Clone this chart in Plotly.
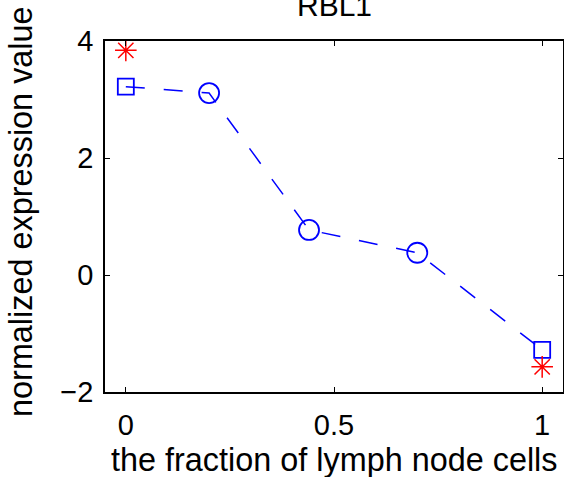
import plotly.graph_objects as go

# Data
line_x = [0.0, 0.2, 0.44, 0.70, 1.0]
line_y = [3.22, 3.11, 0.77, 0.38, -1.28]
mix_x = [0.2, 0.44, 0.70]
mix_y = [3.11, 0.77, 0.38]
pure_x = [0.0, 1.0]
pure_y = [3.22, -1.28]
star_x = [0.0, 1.0]
star_y = [3.84, -1.57]

x_ticks = [0, 0.5, 1]
x_tick_labels = ["0", "0.5", "1"]
y_ticks = [-2, 0, 2, 4]
y_tick_labels = ["\u22122", "0", "2", "4"]

title_text = "RBL1"
x_label = "the fraction of lymph node cells"
y_label = "normalized expression value"

BLUE = "#0000ff"
RED = "#ff0000"
FONT = "Liberation Sans, Arial, sans-serif"

fig = go.Figure()
fig.add_trace(go.Scatter(x=line_x, y=line_y, mode="lines",
                         line=dict(color=BLUE, width=1.5, dash="19px,19px"),
                         showlegend=False, hoverinfo="skip"))
fig.add_trace(go.Scatter(x=mix_x, y=mix_y, mode="markers",
                         marker=dict(symbol="circle-open", size=20, color=BLUE,
                                     line=dict(color=BLUE, width=1.8)),
                         showlegend=False))
fig.add_trace(go.Scatter(x=pure_x, y=pure_y, mode="markers",
                         marker=dict(symbol="square-open", size=16, color=BLUE,
                                     line=dict(color=BLUE, width=1.8)),
                         showlegend=False))
fig.add_trace(go.Scatter(x=star_x, y=star_y, mode="markers",
                         marker=dict(symbol="asterisk-open", size=18, color=RED,
                                     line=dict(color=RED, width=1.5)),
                         showlegend=False))

axis_common = dict(showgrid=False, zeroline=False, showline=True, linecolor="black",
                   linewidth=1.5, mirror="ticks", ticks="inside", ticklen=5,
                   tickwidth=1, tickcolor="black", automargin=False,
                   tickfont=dict(family=FONT, size=29, color="black"))

fig.update_xaxes(range=[-0.05, 1.05], tickvals=x_ticks, ticktext=x_tick_labels,
                 ticklabelstandoff=6, **axis_common)
fig.update_yaxes(range=[-2, 4], tickvals=y_ticks, ticktext=y_tick_labels,
                 ticklabelstandoff=4, **axis_common)

fig.update_layout(
    width=564, height=477,
    margin=dict(l=105, r=1, t=41, b=85, autoexpand=False),
    paper_bgcolor="white", plot_bgcolor="white",
    font=dict(family=FONT, color="black"),
    annotations=[
        dict(text=title_text, xref="paper", yref="paper", x=0.5, y=1,
             xanchor="center", yanchor="bottom", yshift=17, showarrow=False,
             font=dict(family=FONT, size=30, color="black")),
        dict(text=x_label, xref="paper", yref="paper", x=0.5, y=0,
             xanchor="center", yanchor="bottom", yshift=-88, showarrow=False,
             font=dict(family=FONT, size=32.4, color="black")),
        dict(text=y_label, xref="paper", yref="paper", x=0, y=0.513,
             xanchor="center", yanchor="middle", xshift=-84, textangle=-90,
             showarrow=False,
             font=dict(family=FONT, size=32.4, color="black")),
    ],
)

fig.write_html("out.html", config={"displayModeBar": False},
               post_script="document.body.style.margin='0';document.body.style.overflow='hidden';")
